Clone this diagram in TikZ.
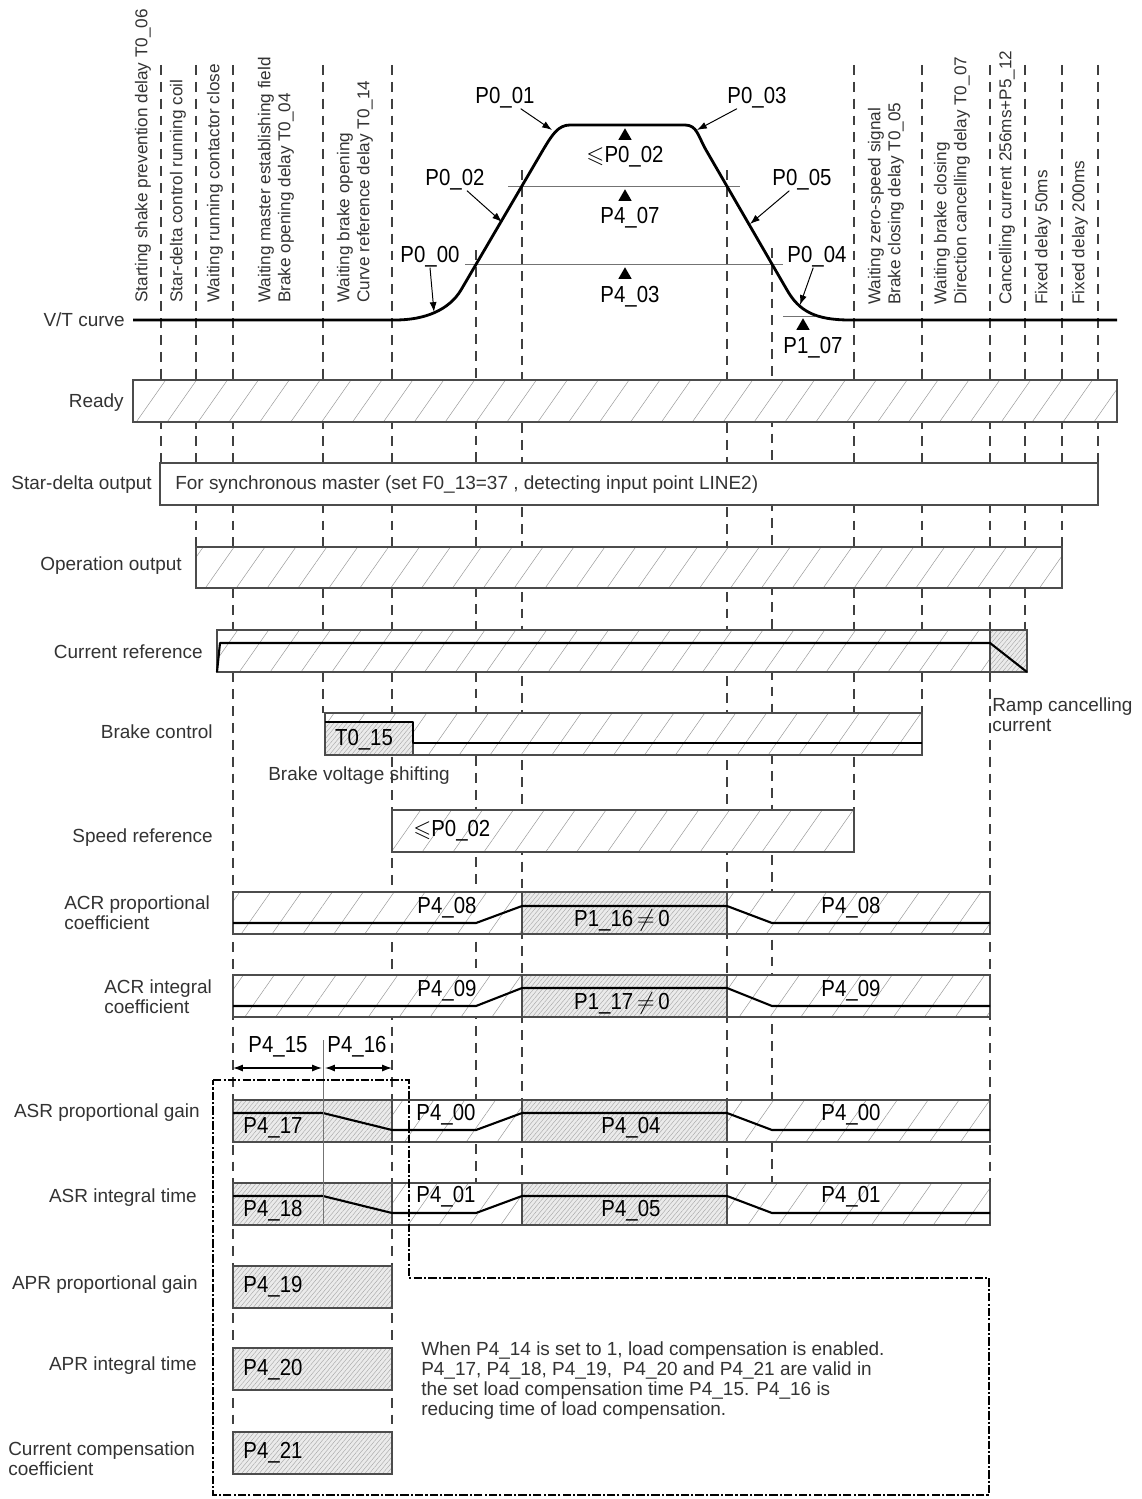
\documentclass[tikz,border=0pt]{standalone}
\usepackage{amssymb}
\usepackage{fontspec}
\setmainfont{Liberation Sans}
\newfontfamily\pfont[FakeStretch=0.88]{Liberation Sans}
\usetikzlibrary{arrows.meta,patterns.meta,shapes.geometric}

\begin{document}
\begin{tikzpicture}[x=0.25mm,y=-0.25mm,
    teks/.style={font=\fontsize{13.5}{14.4}\selectfont,text=black!80,inner sep=0pt},
    tegak/.style={font=\fontsize{12.2}{14.2}\selectfont,text=black!80,inner sep=0pt,
      rotate=90,anchor=west,align=left},
    nilai/.style={font=\pfont\fontsize{16.5}{18}\selectfont,inner sep=0pt},
    bantu/.style={line width=0.8pt,black!75,dash pattern=on 7pt off 5pt},
    tipis/.style={line width=0.6pt,black!55},
    kurva/.style={line width=2pt,line join=round},
    tebal/.style={line width=1.5pt,line join=round},
    bingkai/.style={draw=black!70,line width=0.8pt},
    arsir/.style={fill=white,postaction={pattern={Lines[angle=55,distance=18pt,line width=0.35pt]},
      pattern color=black!40}},
    padat/.style={fill=black!8,postaction={pattern={Lines[angle=50,distance=2.4pt,line width=0.3pt]},
      pattern color=black!35}},
    panah/.style={-{Latex[length=7pt,width=5pt]},line width=0.7pt},
    ukur/.style={{Latex[length=7pt,width=5pt]}-{Latex[length=7pt,width=5pt]},line width=0.9pt},
    segitiga/.style={regular polygon,regular polygon sides=3,fill=black,inner sep=0pt,minimum size=11pt},
    garistitik/.style={line width=1.6pt,dash pattern=on 6pt off 1.5pt on 1.5pt off 1.5pt}]
    \useasboundingbox (0,0) rectangle (1141,1499);
    \fill[white] (0,0) rectangle (1141,1499);
    % Garis bantu waktu (putus-putus)
    \draw[bantu] (161,65) -- (161,463) (196,65) -- (196,547) (233,65) -- (233,1432)
          (323,65) -- (323,713) (392,65) -- (392,1432) (476,250) -- (476,1183)
          (522,170) -- (522,1183) (727,170) -- (727,1183) (772,248) -- (772,1183)
          (854,65) -- (854,852) (922,65) -- (922,713) (990,65) -- (990,1183)
          (1025,65) -- (1025,630) (1062,65) -- (1062,547) (1098,65) -- (1098,463);
    % Kurva V/T
    \draw[tipis] (508,186) -- (740,186) (465,264) -- (783,264) (783,316) -- (815,316);
    \draw[kurva] (133,320) -- (395,320) .. controls (425,320) and (449,310) .. (461,290)
          -- (543,150) .. controls (552,135) and (558,125) .. (570,125) -- (685,125)
          .. controls (697,125) and (698,136) .. (706,150) -- (787,290)
          .. controls (799,311) and (815,320) .. (850,320) -- (1117,320);
    \node[segitiga] (s1) at (625,136) {};
    \node[segitiga] (s2) at (625,197) {};
    \node[segitiga] (s3) at (625,275) {};
    \node[segitiga] (s4) at (803,326) {};
    \node[nilai] (tmax) at (625,157) {$\leqslant$P0\_02};
    \node[nilai] (p407) at (630,218) {P4\_07};
    \node[nilai] (p403) at (630,297) {P4\_03};
    \node[nilai] (p107) at (813,348) {P1\_07};
    \node[nilai] (p001) at (505,98) {P0\_01};
    \node[nilai] (p003) at (757,98) {P0\_03};
    \node[nilai] (p002) at (455,180) {P0\_02};
    \node[nilai] (p005) at (802,180) {P0\_05};
    \node[nilai] (p000) at (430,257) {P0\_00};
    \node[nilai] (p004) at (817,257) {P0\_04};
    \coordinate (u001) at (552,130);
    \coordinate (u003) at (697,130);
    \coordinate (u002) at (502,222);
    \coordinate (u005) at (750,224);
    \coordinate (u000) at (434,312);
    \coordinate (u004) at (800,305);
    \draw[panah] (p001) -- (u001);
    \draw[panah] (p003) -- (u003);
    \draw[panah] (p002) -- (u002);
    \draw[panah] (p005) -- (u005);
    \draw[panah] (p000.south) -- (u000);
    \draw[panah] (p004) -- (u004);
    % Ready, Star-delta, Operation
    \path[arsir] (133,380) rectangle (1117,422);
    \draw[bingkai] (133,380) rectangle (1117,422);
    \draw[bingkai,fill=white] (160,463) rectangle (1098,505);
    \node[teks,anchor=west] (tstar) at (175,485) {For synchronous master (set F0\_13=37 , detecting input point LINE2)};
    \path[arsir] (196,547) rectangle (1062,588);
    \draw[bingkai] (196,547) rectangle (1062,588);
    % Current reference
    \path[arsir] (217,630) rectangle (990,672);
    \path[padat] (990,630) rectangle (1027,672);
    \draw[bingkai] (217,630) rectangle (1027,672) (990,630) -- (990,672);
    \draw[tebal] (217,672) -- (220,643) -- (990,643) -- (1027,672);
    \node[teks,anchor=north west,align=left] (tramp) at (992,697) {Ramp cancelling\\current};
    % Brake control
    \path[arsir] (325,713) rectangle (922,755);
    \path[padat] (325,722) rectangle (413,755);
    \draw[bingkai] (325,713) rectangle (922,755) (413,722) -- (413,755);
    \draw[tebal] (325,722) -- (413,722) -- (413,743) -- (922,743);
    \node[nilai] (t015) at (364,740) {T0\_15};
    \node[teks,anchor=west] (tshift) at (268,776) {Brake voltage shifting};
    % Speed reference
    \path[arsir] (392,810) rectangle (854,852);
    \draw[bingkai] (392,810) rectangle (854,852);
    \node[nilai,anchor=west] (tspd) at (413,831) {$\leqslant$P0\_02};
    % ACR proportional
    \path[arsir] (233,892) rectangle (522,934);
    \path[padat] (522,892) rectangle (727,934);
    \path[arsir] (727,892) rectangle (990,934);
    \draw[bingkai] (233,892) rectangle (990,934) (522,892) -- (522,934) (727,892) -- (727,934);
    \draw[tebal] (233,923) -- (476,923) -- (522,906) -- (727,906) -- (772,923) -- (990,923);
    \node[nilai] (a1) at (447,908) {P4\_08};
    \node[nilai] (a2) at (622,920) {P1\_16\,$\neq$\,0};
    \node[nilai] (a3) at (851,908) {P4\_08};
    % ACR integral
    \path[arsir] (233,975) rectangle (522,1017);
    \path[padat] (522,975) rectangle (727,1017);
    \path[arsir] (727,975) rectangle (990,1017);
    \draw[bingkai] (233,975) rectangle (990,1017) (522,975) -- (522,1017) (727,975) -- (727,1017);
    \draw[tebal] (233,1006) -- (476,1006) -- (522,988) -- (727,988) -- (772,1006) -- (990,1006);
    \node[nilai] (b1) at (447,991) {P4\_09};
    \node[nilai] (b2) at (622,1003) {P1\_17\,$\neq$\,0};
    \node[nilai] (b3) at (851,991) {P4\_09};
    % P4_15 dan P4_16
    \node[nilai] (p415) at (278,1047) {P4\_15};
    \node[nilai] (p416) at (357,1047) {P4\_16};
    \coordinate (d1) at (233,1068);
    \coordinate (d2) at (322,1068);
    \coordinate (d3) at (325,1068);
    \coordinate (d4) at (392,1068);
    \draw[ukur] (d1) -- (d2);
    \draw[ukur] (d3) -- (d4);
    % ASR proportional
    \path[padat] (233,1100) rectangle (392,1142);
    \path[arsir] (392,1100) rectangle (522,1142);
    \path[padat] (522,1100) rectangle (727,1142);
    \path[arsir] (727,1100) rectangle (990,1142);
    \draw[bingkai] (233,1100) rectangle (990,1142) (392,1100) -- (392,1142)
          (522,1100) -- (522,1142) (727,1100) -- (727,1142);
    \draw[tebal] (233,1113) -- (323,1113) -- (392,1130) -- (476,1130) -- (522,1113)
          -- (727,1113) -- (772,1130) -- (990,1130);
    \node[nilai] (c1) at (273,1128) {P4\_17};
    \node[nilai] (c2) at (446,1115) {P4\_00};
    \node[nilai] (c3) at (631,1128) {P4\_04};
    \node[nilai] (c4) at (851,1115) {P4\_00};
    % ASR integral
    \path[padat] (233,1183) rectangle (392,1225);
    \path[arsir] (392,1183) rectangle (522,1225);
    \path[padat] (522,1183) rectangle (727,1225);
    \path[arsir] (727,1183) rectangle (990,1225);
    \draw[bingkai] (233,1183) rectangle (990,1225) (392,1183) -- (392,1225)
          (522,1183) -- (522,1225) (727,1183) -- (727,1225);
    \draw[tebal] (233,1196) -- (323,1196) -- (392,1213) -- (476,1213) -- (522,1196)
          -- (727,1196) -- (772,1213) -- (990,1213);
    \node[nilai] (e1) at (273,1211) {P4\_18};
    \node[nilai] (e2) at (446,1197) {P4\_01};
    \node[nilai] (e3) at (631,1211) {P4\_05};
    \node[nilai] (e4) at (851,1197) {P4\_01};
    \draw[tipis] (323,1040) -- (323,1225);
    % APR dan kompensasi arus
    \path[padat] (233,1266) rectangle (392,1308);
    \draw[bingkai] (233,1266) rectangle (392,1308);
    \node[nilai] (f1) at (273,1287) {P4\_19};
    \path[padat] (233,1348) rectangle (392,1390);
    \draw[bingkai] (233,1348) rectangle (392,1390);
    \node[nilai] (f2) at (273,1370) {P4\_20};
    \path[padat] (233,1432) rectangle (392,1474);
    \draw[bingkai] (233,1432) rectangle (392,1474);
    \node[nilai] (f3) at (273,1453) {P4\_21};
    % Kotak kompensasi beban
    \draw[garistitik] (213,1080) -- (409,1080) -- (409,1278) -- (989,1278) -- (989,1495)
          -- (213,1495) -- cycle;
    \node[teks,anchor=north west,align=left] (catatan) at (421,1341)
          {When P4\_14 is set to 1, load compensation is enabled.\\
           P4\_17, P4\_18, P4\_19,\ \ P4\_20 and P4\_21 are valid in\\
           the set load compensation time P4\_15. P4\_16 is\\
           reducing time of load compensation.};
    % Nama sinyal
    \node[teks,anchor=east] (lvt) at (125,320) {V/T curve};
    \node[teks,anchor=east] (lready) at (124,403) {Ready};
    \node[teks,anchor=east] (lstar) at (152,485) {Star-delta output};
    \node[teks,anchor=east] (lop) at (182,566) {Operation output};
    \node[teks,anchor=east] (lcur) at (203,652) {Current reference};
    \node[teks,anchor=east] (lbrake) at (213,732) {Brake control};
    \node[teks,anchor=east] (lspeed) at (213,838) {Speed reference};
    \node[teks,anchor=west,align=left] (lacrp) at (64,913) {ACR proportional\\coefficient};
    \node[teks,anchor=west,align=left] (lacri) at (104,997) {ACR integral\\coefficient};
    \node[teks,anchor=east] (lasrp) at (200,1113) {ASR proportional gain};
    \node[teks,anchor=east] (lasri) at (197,1198) {ASR integral time};
    \node[teks,anchor=east] (laprp) at (198,1285) {APR proportional gain};
    \node[teks,anchor=east] (lapri) at (197,1366) {APR integral time};
    \node[teks,anchor=west,align=left] (lcomp) at (8,1459) {Current compensation\\coefficient};
    % Keterangan tegak di atas
    \node[tegak] (k1) at (143,303) {Starting shake prevention delay T0\_06};
    \node[tegak] (k2) at (178,303) {Star-delta control running coil};
    \node[tegak] (k3) at (215,303) {Waiting running contactor close};
    \node[tegak] (k4) at (276,303) {Waiting master establishing field\\Brake opening delay T0\_04};
    \node[tegak] (k5) at (355,303) {Waiting brake opening\\Curve reference delay T0\_14};
    \node[tegak] (k6) at (886,305) {Waiting zero-speed signal\\Brake closing delay T0\_05};
    \node[tegak] (k7) at (952,305) {Waiting brake closing\\Direction cancelling delay T0\_07};
    \node[tegak] (k8) at (1007,305) {Cancelling current 256ms+P5\_12};
    \node[tegak] (k9) at (1043,305) {Fixed delay 50ms};
    \node[tegak] (k10) at (1080,305) {Fixed delay 200ms};
  \end{tikzpicture}
\end{document}
